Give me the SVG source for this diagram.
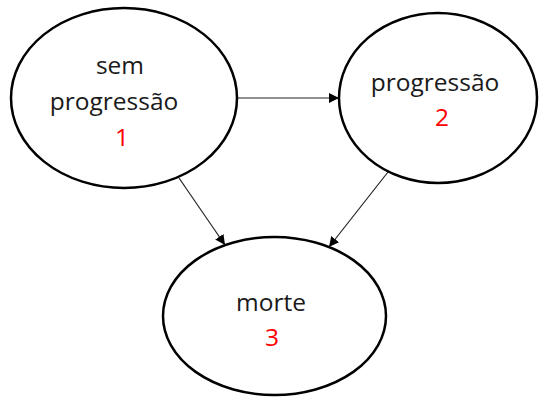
<svg xmlns="http://www.w3.org/2000/svg" width="540" height="398" viewBox="0 0 540 398">
<defs>
<style>
.node{fill:#fff;stroke:#000;stroke-width:2.5}
.lbl{font-family:"Open Sans","Noto Sans",sans-serif;font-size:24.5px;fill:#1a1a1a;text-anchor:middle}
.num{fill:#ff0000}
.edge{stroke:#222;stroke-width:1.2;fill:none;marker-end:url(#ah)}
</style>
<marker id="ah" viewBox="0 0 10 10" refX="10" refY="5" markerWidth="10" markerHeight="10" markerUnits="userSpaceOnUse" orient="auto">
<path d="M0,0 L10,5 L0,10 z" fill="#000"/>
</marker>
</defs>
<g id="connectors">
<line class="edge" x1="237" y1="98" x2="339" y2="98"/>
<line class="edge" x1="179" y1="178" x2="225" y2="245"/>
<line class="edge" x1="388" y1="172" x2="329" y2="247"/>
</g>
<g id="n1">
<ellipse class="node" cx="124" cy="98" rx="113" ry="90"/>
<text class="lbl" x="120" y="74">sem</text>
<text class="lbl" x="114" y="110">progressão</text>
<text class="lbl num" x="122" y="146">1</text>
</g>
<g id="n2">
<ellipse class="node" cx="438" cy="98" rx="99" ry="85"/>
<text class="lbl" x="435" y="91">progressão</text>
<text class="lbl num" x="442" y="126">2</text>
</g>
<g id="n3">
<ellipse class="node" cx="274.5" cy="316" rx="111.5" ry="79"/>
<text class="lbl" x="271" y="311">morte</text>
<text class="lbl num" x="272" y="346">3</text>
</g>
</svg>
